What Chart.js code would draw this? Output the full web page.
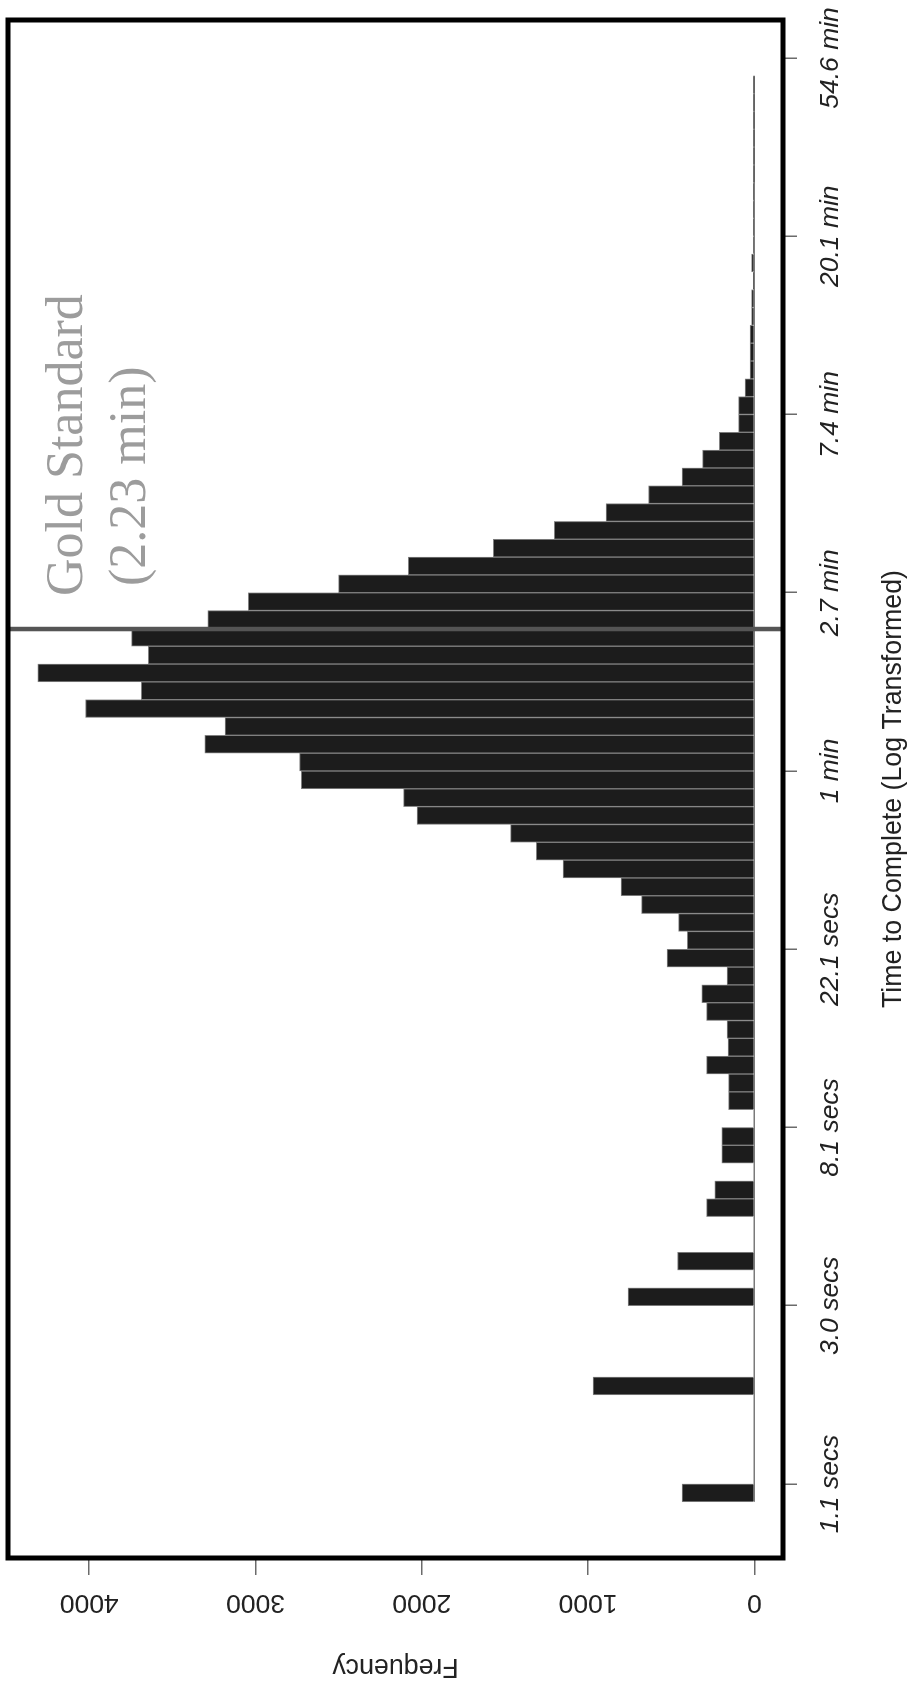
<!DOCTYPE html>
<html>
<head>
<meta charset="utf-8">
<script src="https://cdn.jsdelivr.net/npm/chart.js@4.4.0/dist/chart.umd.min.js"></script>
<style>
  html, body { margin: 0; padding: 0; background: #fff; overflow: hidden; }
  body { width: 912px; height: 1681px; position: relative; }
  /* the chart is drawn lying down (1681 x 912) and turned a quarter left */
  #wrap {
    position: absolute; left: 0; top: 0;
    width: 1681px; height: 912px;
    transform-origin: 0 0;
    transform: translateY(1681px) rotate(-90deg);
  }
</style>
</head>
<body>
<div id="wrap"><canvas id="hist" width="1681" height="912"></canvas></div>
<script>
// bins of log(seconds), 0.1 wide (lower edges)
const binStart = [
  0.0, 0.1, 0.2, 0.3, 0.4, 0.5, 0.6, 0.7, 0.8, 0.9,
  1.0, 1.1, 1.2, 1.3, 1.4, 1.5, 1.6, 1.7, 1.8, 1.9,
  2.0, 2.1, 2.2, 2.3, 2.4, 2.5, 2.6, 2.7, 2.8, 2.9,
  3.0, 3.1, 3.2, 3.3, 3.4, 3.5, 3.6, 3.7, 3.8, 3.9,
  4.0, 4.1, 4.2, 4.3, 4.4, 4.5, 4.6, 4.7, 4.8, 4.9,
  5.0, 5.1, 5.2, 5.3, 5.4, 5.5, 5.6, 5.7, 5.8, 5.9,
  6.0, 6.1, 6.2, 6.3, 6.4, 6.5, 6.6, 6.7, 6.8, 6.9,
  7.0, 7.1, 7.2, 7.3, 7.4, 7.5, 7.6, 7.7, 7.8, 7.9
];
const binWidth = 0.1;

// frequency in each bin
const counts = [
  434, 0, 0, 0, 0, 0, 969, 0, 0, 0,
  0, 759, 0, 462, 0, 0, 287, 238, 0, 196,
  196, 0, 154, 154, 287, 157, 164, 287, 315, 164,
  525, 402, 455, 678, 801, 1150, 1311, 1465, 2028, 2109,
  2724, 2735, 3305, 3182, 4022, 3686, 4308, 3644, 3745, 3287,
  3042, 2500, 2081, 1570, 1203, 892, 636, 434, 311, 210,
  94, 94, 56, 26, 26, 26, 16, 16, 4, 16,
  3, 2, 2, 2, 1, 1, 1, 1, 1, 1
];

// time axis: tick positions in log(seconds) and their labels
const timeTicks = [0.1, 1.1, 2.1, 3.1, 4.1, 5.1, 6.1, 7.1, 8.1];
const timeLabels = ["1.1 secs", "3.0 secs", "8.1 secs", "22.1 secs", "1 min",
                    "2.7 min", "7.4 min", "20.1 min", "54.6 min"];
const freqTicks = [0, 1000, 2000, 3000, 4000];

// gold standard marker
const goldMinutes = 2.23;
const goldLabel = ["Gold Standard", "(2.23 min)"];

const goldValue = Math.log(goldMinutes * 60);

const barData = binStart.map((b, i) => ({ x: b + binWidth / 2, y: counts[i] }));
const zeroLine = [
  { x: binStart[0], y: 0 },
  { x: binStart[binStart.length - 1] + binWidth, y: 0 }
];

const sans = "'Liberation Sans', Arial, sans-serif";
const serif = "'Liberation Serif', 'Times New Roman', serif";

// gold line, its label and the plot box
const framePlugin = {
  id: "frame",
  afterDatasetsDraw(chart) {
    const { ctx, chartArea } = chart;
    const gx = chart.scales.x.getPixelForValue(goldValue);
    ctx.save();
    ctx.strokeStyle = "#555555";
    ctx.lineWidth = 4.5;
    ctx.beginPath();
    ctx.moveTo(gx, chartArea.top);
    ctx.lineTo(gx, chartArea.bottom);
    ctx.stroke();

    ctx.fillStyle = "#9c9c9c";
    ctx.font = "52px " + serif;
    ctx.textAlign = "left";
    ctx.textBaseline = "alphabetic";
    ctx.fillText(goldLabel[0], gx + 33, chartArea.top + 74);
    ctx.fillText(goldLabel[1], gx + 43, chartArea.top + 137);
    ctx.restore();
  },
  afterDraw(chart) {
    const { ctx, chartArea } = chart;
    ctx.save();
    ctx.strokeStyle = "#000";
    ctx.lineWidth = 5;
    ctx.lineJoin = "miter";
    ctx.strokeRect(chartArea.left, chartArea.top,
                   chartArea.right - chartArea.left, chartArea.bottom - chartArea.top);
    ctx.restore();
  }
};

const data = {
  datasets: [
    {
      type: "bar",
      data: barData,
      backgroundColor: "#1c1c1c",
      borderColor: "#808080",
      borderWidth: { top: 1, left: 1, right: 1, bottom: 0 },
      borderSkipped: false,
      base: 0,
      barPercentage: 1,
      categoryPercentage: 1,
      order: 1
    },
    {
      type: "line",
      data: zeroLine,
      borderColor: "#7a7a7a",
      borderWidth: 1.5,
      pointRadius: 0,
      order: 2
    }
  ]
};

const options = {
  responsive: false,
  devicePixelRatio: 1,
  animation: false,
  layout: { padding: { left: 0, right: 20, top: 8, bottom: 0 } },
  scales: {
    x: {
      type: "linear",
      bounds: "data",
      offset: false,
      min: -0.3153,
      max: 8.313,
      border: { display: false },
      grid: { offset: false, drawOnChartArea: false, drawTicks: true, tickLength: 14, color: "#6b6b6b", lineWidth: 1.5 },
      ticks: {
        autoSkip: false,
        maxRotation: 0,
        minRotation: 0,
        padding: 18,
        color: "#222",
        font: { family: sans, size: 26.5, style: "italic" },
        callback: (value, index) => timeLabels[index]
      },
      afterBuildTicks: (scale) => {
        scale.ticks = timeTicks.map((v) => ({ value: v }));
      },
      afterFit: (scale) => {
        scale.height = 129;
        scale.paddingLeft = 0;
        scale.paddingRight = 0;
      },
      title: {
        display: true,
        text: "Time to Complete (Log Transformed)",
        color: "#222",
        font: { family: sans, size: 26.75, lineHeight: 1 },
        padding: { top: 0, bottom: 5 }
      }
    },
    y: {
      type: "linear",
      bounds: "data",
      min: -172.6,
      max: 4488,
      border: { display: false },
      grid: { drawOnChartArea: false, drawTicks: true, tickLength: 17, color: "#6b6b6b", lineWidth: 1.5 },
      ticks: {
        minRotation: 90,
        maxRotation: 90,
        crossAlign: "center",
        padding: -2.3,
        color: "#222",
        font: { family: sans, size: 26.5 },
        callback: (value) => String(value)
      },
      afterBuildTicks: (scale) => {
        scale.ticks = freqTicks.map((v) => ({ value: v }));
      },
      afterFit: (scale) => {
        scale.width = 123;
        scale.paddingTop = 0;
        scale.paddingBottom = 0;
      },
      title: {
        display: true,
        text: "Frequency",
        color: "#222",
        font: { family: sans, size: 26.75, lineHeight: 1 },
        padding: { top: 1.3, bottom: 0 }
      }
    }
  },
  plugins: {
    legend: { display: false },
    tooltip: { enabled: false }
  }
};

const histChart = new Chart(document.getElementById("hist").getContext("2d"), {
  data: data,
  options: options,
  plugins: [framePlugin]
});
</script>
</body>
</html>
